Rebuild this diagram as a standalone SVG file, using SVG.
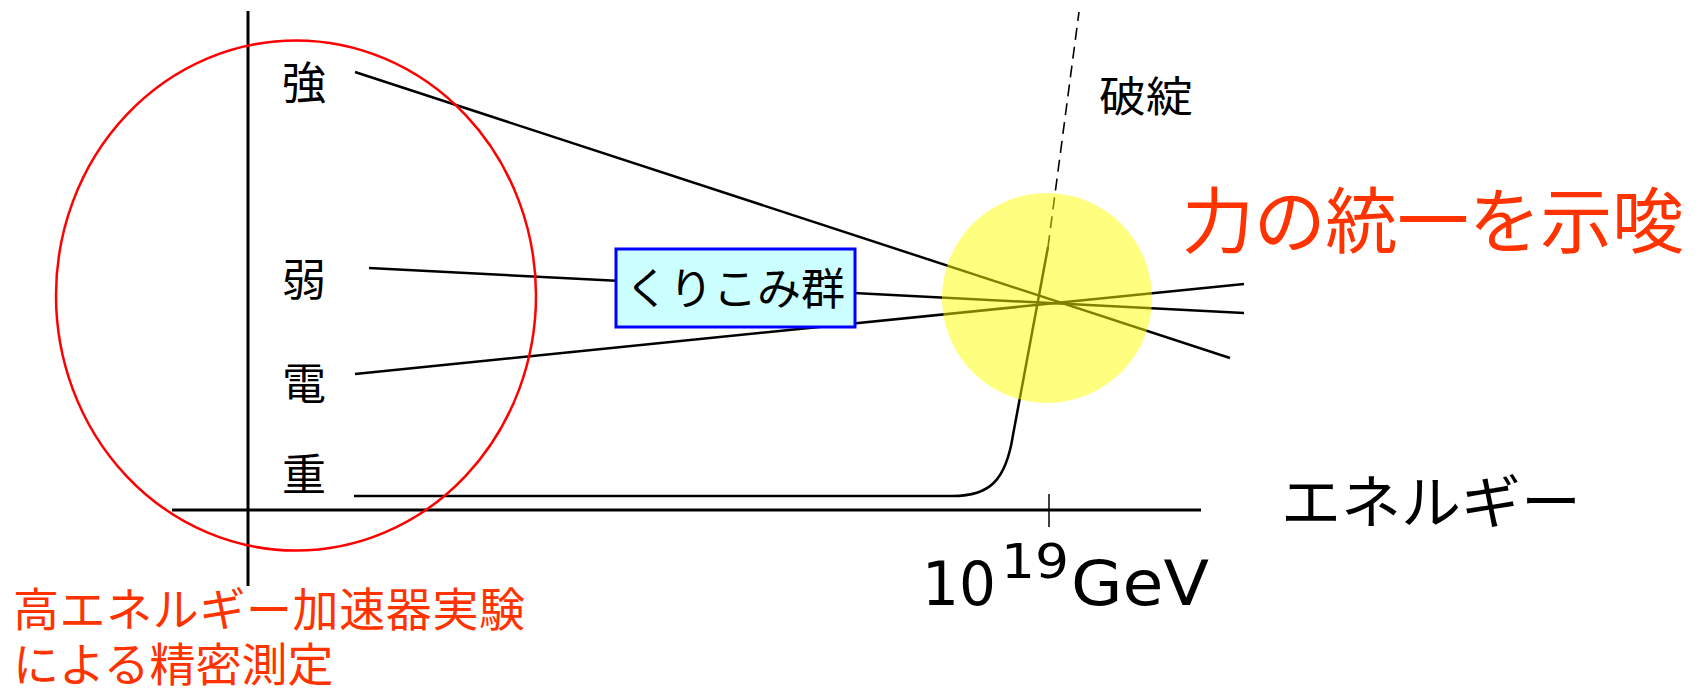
<svg xmlns="http://www.w3.org/2000/svg" width="1700" height="688" viewBox="0 0 1700 688">
<style>
.cjk{font-family:"Noto Sans CJK JP","Noto Sans",sans-serif}
.lbl{font-size:44px;fill:#000;text-anchor:middle}
.red{fill:#ff3300}
.ln{stroke:#000;stroke-width:2.5;fill:none}
.num{font-family:"DejaVu Sans",sans-serif;fill:#000}
</style>
<rect width="1700" height="688" fill="#fff"/>
<g id="axes">
<line x1="248" y1="11" x2="248" y2="586" stroke="#000" stroke-width="3"/>
<line x1="172" y1="510" x2="1201" y2="510" stroke="#000" stroke-width="3"/>
<line x1="1049" y1="494" x2="1049" y2="527" stroke="#000" stroke-width="1.5"/>
</g>
<g id="connectors">
<line class="ln" x1="355" y1="72" x2="1230" y2="358"/>
<line class="ln" x1="369" y1="268" x2="1244" y2="313"/>
<line class="ln" x1="355" y1="374" x2="1244" y2="284"/>
<path class="ln" d="M354,496 L950,496 C990,497 1006,480 1013,435 L1048,247"/>
<line x1="1048" y1="247" x2="1079" y2="12" stroke="#000" stroke-width="1.6" stroke-dasharray="12,7"/>
</g>
<g id="unify-spot">
<circle cx="1047" cy="298" r="105" fill="#ffff00" fill-opacity="0.5"/>
</g>
<g id="renorm">
<rect x="616" y="249" width="239" height="78" fill="#ccffff" stroke="#0000ff" stroke-width="3"/>
<text class="cjk lbl" x="735" y="305">くりこみ群</text>
</g>
<g id="label-strong"><text class="cjk lbl" x="304" y="99">強</text></g>
<g id="label-weak"><text class="cjk lbl" x="304" y="296">弱</text></g>
<g id="label-em"><text class="cjk lbl" x="304" y="400">電</text></g>
<g id="label-grav"><text class="cjk lbl" x="304" y="491">重</text></g>
<g id="label-break"><text class="cjk" x="1099" y="112" font-size="42" textLength="94" lengthAdjust="spacingAndGlyphs">破綻</text></g>
<g id="label-unify"><text class="cjk red" x="1182" y="247" font-size="72" textLength="502">力の統一を示唆</text></g>
<g id="label-energy"><text class="cjk" x="1281" y="523" font-size="58" textLength="300" lengthAdjust="spacingAndGlyphs">エネルギー</text></g>
<g id="label-gev"><text class="num" y="605" font-size="60"><tspan x="922" textLength="74" lengthAdjust="spacingAndGlyphs">10</tspan><tspan x="1001" y="578" font-size="48" textLength="68" lengthAdjust="spacingAndGlyphs">19</tspan><tspan x="1071" y="605" font-size="62" textLength="138" lengthAdjust="spacingAndGlyphs">GeV</tspan></text></g>
<g id="experiment">
<ellipse cx="296" cy="295.5" rx="240" ry="255" fill="none" stroke="#ff0000" stroke-width="2.5"/>
<text class="cjk red" font-size="46"><tspan x="13" y="626" textLength="512">高エネルギー加速器実験</tspan><tspan x="13" y="681">による精密測定</tspan></text>
</g>
</svg>
